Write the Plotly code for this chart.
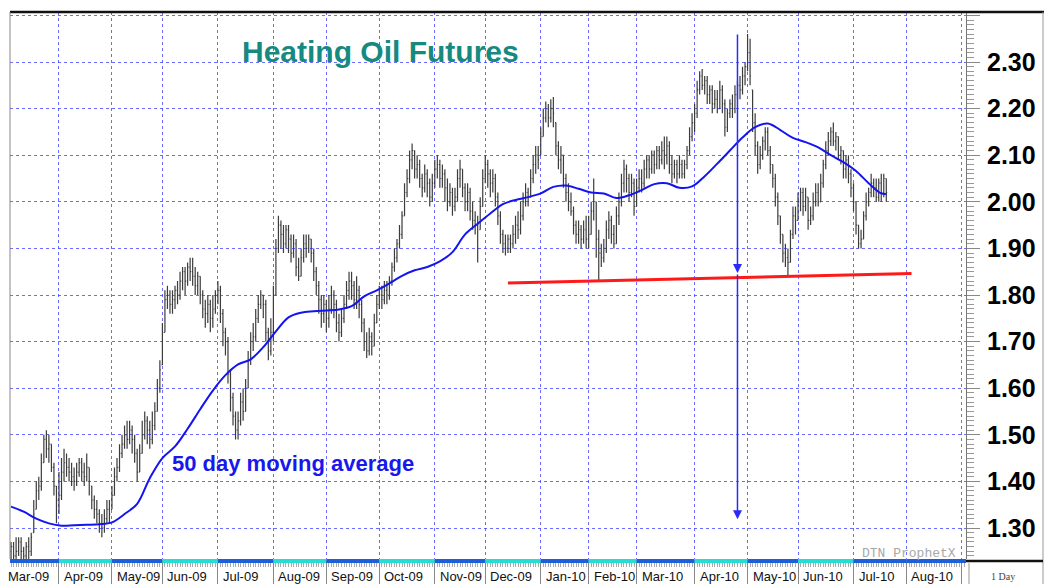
import pandas as pd
import plotly.graph_objects as go

# ---------------- data ----------------
title_text = "Heating Oil Futures"
ma_label = "50 day moving average"
watermark = "DTN ProphetX"
period_text = "1 Day"

first_session = "2009-03-02"
last_session = "2010-09-30"
first_bar_date = "2009-03-05"
holidays = ["2009-04-10", "2009-05-25", "2009-07-03", "2009-09-07", "2009-11-26",
            "2009-12-25", "2010-01-01", "2010-01-18", "2010-02-15", "2010-04-02",
            "2010-05-31", "2010-07-05"]

opens = [
    1.25, 1.26, 1.24, 1.25, 1.27, 1.25, 1.24, 1.26, 1.25, 1.29,
    1.34, 1.38, 1.39, 1.44, 1.49, 1.47, 1.48, 1.43, 1.39, 1.36,
    1.37, 1.42, 1.44, 1.43, 1.42, 1.41, 1.40, 1.42, 1.44, 1.42,
    1.41, 1.43, 1.39, 1.36, 1.34, 1.33, 1.31, 1.30, 1.32, 1.34,
    1.34, 1.37, 1.41, 1.43, 1.46, 1.48, 1.50, 1.49, 1.51, 1.49,
    1.46, 1.42, 1.46, 1.50, 1.53, 1.51, 1.49, 1.52, 1.55, 1.60,
    1.65, 1.72, 1.79, 1.80, 1.78, 1.79, 1.81, 1.80, 1.83, 1.85,
    1.83, 1.86, 1.85, 1.84, 1.82, 1.84, 1.80, 1.77, 1.76, 1.78,
    1.75, 1.77, 1.80, 1.81, 1.76, 1.72, 1.70, 1.63, 1.58, 1.54,
    1.51, 1.53, 1.57, 1.55, 1.60, 1.66, 1.70, 1.71, 1.75, 1.78,
    1.80, 1.78, 1.72, 1.68, 1.72, 1.80, 1.90, 1.95, 1.93, 1.91,
    1.94, 1.92, 1.89, 1.91, 1.86, 1.84, 1.88, 1.91, 1.90, 1.92,
    1.89, 1.85, 1.82, 1.79, 1.76, 1.78, 1.75, 1.77, 1.80, 1.78,
    1.74, 1.72, 1.75, 1.78, 1.81, 1.83, 1.82, 1.79, 1.81, 1.78,
    1.74, 1.70, 1.68, 1.71, 1.69, 1.74, 1.78, 1.80, 1.79, 1.81,
    1.80, 1.83, 1.86, 1.88, 1.91, 1.93, 1.97, 2.02, 2.05, 2.09,
    2.11, 2.07, 2.08, 2.05, 2.03, 2.06, 2.04, 2.01, 2.04, 2.07,
    2.08, 2.05, 2.06, 2.03, 2.00, 2.02, 1.99, 2.01, 2.05, 2.07,
    2.03, 2.00, 2.02, 1.98, 1.96, 1.95, 1.94, 1.99, 2.05, 2.08,
    2.06, 2.04, 2.05, 2.01, 1.97, 1.93, 1.91, 1.90, 1.92, 1.91,
    1.93, 1.95, 1.94, 1.97, 2.00, 2.02, 2.01, 2.05, 2.08, 2.10,
    2.10, 2.14, 2.18, 2.20, 2.18, 2.20, 2.17, 2.12, 2.09, 2.10,
    2.05, 2.02, 2.00, 1.98, 1.95, 1.93, 1.94, 1.92, 1.94, 1.92,
    1.93, 1.98, 2.00, 1.92, 1.89, 1.88, 1.90, 1.94, 1.96, 1.93,
    1.91, 1.97, 2.00, 2.04, 2.07, 2.05, 2.02, 2.04, 1.99, 2.03,
    2.05, 2.04, 2.07, 2.09, 2.07, 2.10, 2.08, 2.11, 2.09, 2.11,
    2.10, 2.12, 2.08, 2.06, 2.08, 2.06, 2.08, 2.06, 2.08, 2.11,
    2.14, 2.17, 2.19, 2.24, 2.27, 2.25, 2.26, 2.23, 2.24, 2.21,
    2.22, 2.20, 2.24, 2.21, 2.16, 2.19, 2.21, 2.20, 2.23, 2.25,
    2.24, 2.27, 2.29, 2.32, 2.24, 2.17, 2.12, 2.08, 2.10, 2.13,
    2.15, 2.11, 2.08, 2.05, 2.01, 1.97, 1.93, 1.89, 1.88, 1.87,
    1.93, 1.97, 1.96, 2.00, 2.02, 1.99, 2.01, 1.96, 1.97, 2.00,
    2.02, 2.00, 2.04, 2.08, 2.11, 2.13, 2.15, 2.13, 2.14, 2.10,
    2.11, 2.07, 2.09, 2.06, 2.03, 2.00, 1.95, 1.91, 1.92, 1.97,
    2.00, 2.02, 2.04, 2.03, 2.01, 2.04, 2.02, 2.05,
]

highs = [
    1.27, 1.27, 1.28, 1.28, 1.28, 1.26, 1.27, 1.28, 1.29, 1.36,
    1.40, 1.41, 1.46, 1.50, 1.51, 1.50, 1.48, 1.44, 1.39, 1.42,
    1.45, 1.47, 1.46, 1.45, 1.44, 1.43, 1.44, 1.45, 1.45, 1.44,
    1.46, 1.43, 1.39, 1.37, 1.36, 1.34, 1.33, 1.34, 1.36, 1.36,
    1.39, 1.43, 1.45, 1.48, 1.50, 1.52, 1.53, 1.53, 1.52, 1.50,
    1.47, 1.48, 1.53, 1.55, 1.54, 1.53, 1.55, 1.57, 1.62, 1.66,
    1.74, 1.81, 1.82, 1.81, 1.81, 1.82, 1.83, 1.85, 1.86, 1.86,
    1.87, 1.88, 1.88, 1.86, 1.85, 1.84, 1.81, 1.79, 1.80, 1.79,
    1.80, 1.81, 1.83, 1.82, 1.77, 1.73, 1.71, 1.64, 1.59, 1.55,
    1.55, 1.59, 1.60, 1.62, 1.68, 1.72, 1.74, 1.77, 1.80, 1.81,
    1.80, 1.79, 1.73, 1.75, 1.82, 1.92, 1.97, 1.96, 1.95, 1.95,
    1.95, 1.93, 1.93, 1.92, 1.88, 1.90, 1.93, 1.93, 1.93, 1.92,
    1.90, 1.86, 1.83, 1.80, 1.80, 1.79, 1.80, 1.82, 1.81, 1.79,
    1.76, 1.77, 1.80, 1.83, 1.85, 1.85, 1.83, 1.84, 1.82, 1.79,
    1.75, 1.72, 1.73, 1.72, 1.76, 1.80, 1.82, 1.82, 1.83, 1.83,
    1.84, 1.87, 1.90, 1.92, 1.95, 1.98, 2.04, 2.07, 2.11, 2.125,
    2.11, 2.10, 2.09, 2.06, 2.08, 2.07, 2.05, 2.06, 2.09, 2.10,
    2.09, 2.08, 2.07, 2.05, 2.04, 2.03, 2.03, 2.07, 2.09, 2.07,
    2.04, 2.04, 2.03, 2.00, 1.98, 1.97, 2.01, 2.07, 2.10, 2.09,
    2.07, 2.07, 2.06, 2.02, 1.98, 1.94, 1.93, 1.93, 1.93, 1.95,
    1.97, 1.98, 2.00, 2.02, 2.04, 2.03, 2.07, 2.10, 2.12, 2.12,
    2.16, 2.20, 2.215, 2.21, 2.22, 2.225, 2.17, 2.13, 2.12, 2.10,
    2.06, 2.04, 2.02, 1.99, 1.96, 1.96, 1.95, 1.96, 1.97, 1.97,
    2.00, 2.05, 2.00, 1.94, 1.91, 1.92, 1.96, 1.98, 1.97, 1.95,
    1.99, 2.02, 2.06, 2.09, 2.08, 2.06, 2.06, 2.05, 2.05, 2.07,
    2.07, 2.09, 2.10, 2.10, 2.11, 2.11, 2.12, 2.12, 2.13, 2.14,
    2.14, 2.13, 2.10, 2.09, 2.09, 2.10, 2.09, 2.09, 2.12, 2.16,
    2.19, 2.21, 2.26, 2.28, 2.285, 2.27, 2.27, 2.25, 2.25, 2.24,
    2.24, 2.26, 2.25, 2.22, 2.20, 2.22, 2.23, 2.25, 2.26, 2.27,
    2.29, 2.30, 2.36, 2.35, 2.24, 2.19, 2.13, 2.12, 2.14, 2.16,
    2.16, 2.12, 2.08, 2.06, 2.02, 1.97, 1.93, 1.91, 1.90, 1.94,
    1.99, 1.99, 2.02, 2.03, 2.03, 2.03, 2.01, 1.99, 2.02, 2.04,
    2.04, 2.06, 2.09, 2.13, 2.15, 2.16, 2.17, 2.15, 2.14, 2.12,
    2.11, 2.10, 2.10, 2.07, 2.04, 2.00, 1.95, 1.94, 1.98, 2.02,
    2.03, 2.06, 2.05, 2.05, 2.05, 2.06, 2.06, 2.05,
]

lows = [
    1.22, 1.22, 1.23, 1.24, 1.23, 1.22, 1.23, 1.23, 1.24, 1.29,
    1.34, 1.36, 1.38, 1.44, 1.45, 1.44, 1.42, 1.37, 1.31, 1.33,
    1.36, 1.40, 1.41, 1.40, 1.39, 1.38, 1.39, 1.41, 1.40, 1.39,
    1.40, 1.37, 1.34, 1.32, 1.31, 1.29, 1.28, 1.29, 1.31, 1.31,
    1.34, 1.37, 1.40, 1.42, 1.45, 1.47, 1.47, 1.48, 1.46, 1.44,
    1.40, 1.42, 1.46, 1.49, 1.48, 1.47, 1.48, 1.51, 1.55, 1.59,
    1.65, 1.72, 1.77, 1.76, 1.76, 1.77, 1.78, 1.79, 1.81, 1.80,
    1.82, 1.83, 1.82, 1.80, 1.80, 1.78, 1.75, 1.73, 1.74, 1.72,
    1.73, 1.76, 1.78, 1.74, 1.69, 1.67, 1.61, 1.55, 1.52, 1.49,
    1.49, 1.52, 1.53, 1.55, 1.60, 1.65, 1.68, 1.70, 1.74, 1.77,
    1.75, 1.70, 1.66, 1.67, 1.70, 1.80, 1.89, 1.90, 1.89, 1.90,
    1.89, 1.87, 1.88, 1.84, 1.83, 1.84, 1.87, 1.88, 1.89, 1.87,
    1.83, 1.80, 1.76, 1.73, 1.74, 1.72, 1.73, 1.76, 1.75, 1.72,
    1.70, 1.71, 1.74, 1.77, 1.79, 1.79, 1.77, 1.77, 1.75, 1.72,
    1.68, 1.665, 1.67, 1.67, 1.69, 1.74, 1.77, 1.77, 1.78, 1.78,
    1.79, 1.82, 1.85, 1.87, 1.90, 1.92, 1.97, 2.01, 2.04, 2.07,
    2.05, 2.05, 2.03, 2.01, 2.02, 2.01, 1.99, 2.00, 2.03, 2.05,
    2.03, 2.03, 2.00, 1.98, 1.99, 1.97, 1.98, 2.00, 2.03, 2.01,
    1.98, 1.98, 1.96, 1.94, 1.93, 1.87, 1.94, 1.99, 2.04, 2.03,
    2.01, 2.02, 1.99, 1.95, 1.91, 1.89, 1.885, 1.89, 1.89, 1.90,
    1.91, 1.92, 1.93, 1.96, 1.99, 1.99, 2.01, 2.04, 2.06, 2.07,
    2.10, 2.14, 2.17, 2.16, 2.17, 2.16, 2.10, 2.07, 2.06, 2.03,
    2.00, 1.98, 1.97, 1.93, 1.91, 1.91, 1.90, 1.91, 1.90, 1.90,
    1.93, 1.96, 1.88, 1.83, 1.86, 1.87, 1.89, 1.92, 1.91, 1.90,
    1.91, 1.95, 1.99, 2.02, 2.02, 2.00, 2.01, 1.97, 1.99, 2.02,
    2.02, 2.03, 2.05, 2.05, 2.06, 2.06, 2.07, 2.07, 2.08, 2.07,
    2.08, 2.06, 2.04, 2.05, 2.04, 2.05, 2.05, 2.05, 2.07, 2.10,
    2.13, 2.15, 2.18, 2.23, 2.24, 2.23, 2.21, 2.21, 2.19, 2.20,
    2.19, 2.20, 2.19, 2.14, 2.15, 2.18, 2.18, 2.19, 2.22, 2.22,
    2.23, 2.25, 2.28, 2.25, 2.15, 2.10, 2.06, 2.07, 2.09, 2.11,
    2.10, 2.06, 2.03, 1.99, 1.95, 1.91, 1.87, 1.86, 1.84, 1.87,
    1.92, 1.93, 1.96, 1.98, 1.97, 1.98, 1.94, 1.95, 1.96, 1.99,
    1.99, 2.00, 2.03, 2.07, 2.10, 2.12, 2.12, 2.11, 2.09, 2.08,
    2.05, 2.05, 2.04, 2.01, 1.98, 1.93, 1.90, 1.90, 1.92, 1.96,
    1.99, 2.01, 2.01, 2.00, 2.00, 2.00, 2.01, 2.00,
]

closes = [
    1.26, 1.24, 1.25, 1.27, 1.25, 1.24, 1.26, 1.25, 1.28, 1.33,
    1.38, 1.39, 1.44, 1.49, 1.47, 1.48, 1.43, 1.39, 1.36, 1.37,
    1.42, 1.44, 1.43, 1.42, 1.41, 1.40, 1.42, 1.44, 1.42, 1.41,
    1.43, 1.40, 1.36, 1.34, 1.33, 1.31, 1.30, 1.32, 1.34, 1.33,
    1.37, 1.41, 1.43, 1.46, 1.48, 1.50, 1.49, 1.51, 1.49, 1.46,
    1.42, 1.46, 1.50, 1.53, 1.51, 1.49, 1.52, 1.55, 1.60, 1.64,
    1.72, 1.79, 1.80, 1.78, 1.79, 1.81, 1.80, 1.83, 1.85, 1.83,
    1.86, 1.85, 1.84, 1.82, 1.84, 1.80, 1.77, 1.76, 1.78, 1.75,
    1.77, 1.80, 1.81, 1.76, 1.72, 1.70, 1.63, 1.58, 1.54, 1.51,
    1.53, 1.57, 1.55, 1.60, 1.66, 1.70, 1.71, 1.75, 1.78, 1.80,
    1.78, 1.72, 1.68, 1.72, 1.80, 1.90, 1.95, 1.93, 1.91, 1.94,
    1.92, 1.89, 1.91, 1.86, 1.84, 1.88, 1.91, 1.90, 1.92, 1.89,
    1.85, 1.82, 1.79, 1.76, 1.78, 1.75, 1.77, 1.80, 1.78, 1.74,
    1.72, 1.75, 1.78, 1.81, 1.83, 1.82, 1.79, 1.81, 1.78, 1.74,
    1.70, 1.68, 1.71, 1.69, 1.74, 1.78, 1.80, 1.79, 1.81, 1.80,
    1.83, 1.86, 1.88, 1.91, 1.93, 1.97, 2.02, 2.05, 2.09, 2.11,
    2.07, 2.08, 2.05, 2.03, 2.06, 2.04, 2.01, 2.04, 2.07, 2.08,
    2.05, 2.06, 2.03, 2.00, 2.02, 1.99, 2.01, 2.05, 2.07, 2.03,
    2.00, 2.02, 1.98, 1.96, 1.95, 1.90, 1.99, 2.05, 2.08, 2.06,
    2.04, 2.05, 2.01, 1.97, 1.93, 1.91, 1.90, 1.92, 1.91, 1.93,
    1.95, 1.94, 1.97, 2.00, 2.02, 2.01, 2.05, 2.08, 2.10, 2.09,
    2.14, 2.18, 2.20, 2.18, 2.20, 2.19, 2.12, 2.09, 2.10, 2.05,
    2.02, 2.00, 1.98, 1.95, 1.93, 1.94, 1.92, 1.94, 1.92, 1.93,
    1.98, 2.02, 1.92, 1.89, 1.88, 1.90, 1.94, 1.96, 1.93, 1.91,
    1.97, 2.00, 2.04, 2.07, 2.05, 2.02, 2.04, 1.99, 2.03, 2.05,
    2.04, 2.07, 2.09, 2.07, 2.10, 2.08, 2.11, 2.09, 2.11, 2.10,
    2.12, 2.08, 2.06, 2.08, 2.06, 2.08, 2.06, 2.08, 2.11, 2.14,
    2.17, 2.19, 2.24, 2.27, 2.25, 2.26, 2.23, 2.24, 2.21, 2.22,
    2.20, 2.24, 2.21, 2.16, 2.19, 2.21, 2.20, 2.23, 2.25, 2.24,
    2.27, 2.29, 2.32, 2.27, 2.17, 2.12, 2.08, 2.10, 2.13, 2.15,
    2.11, 2.08, 2.05, 2.01, 1.97, 1.93, 1.89, 1.88, 1.87, 1.93,
    1.97, 1.96, 2.00, 2.02, 1.99, 2.01, 1.96, 1.97, 2.00, 2.02,
    2.00, 2.04, 2.08, 2.11, 2.13, 2.15, 2.13, 2.14, 2.10, 2.11,
    2.07, 2.09, 2.06, 2.03, 2.00, 1.95, 1.91, 1.92, 1.97, 2.00,
    2.02, 2.04, 2.03, 2.01, 2.04, 2.02, 2.05, 2.02,
]

# 50-day moving average, sampled every 5th bar (plus the last bar)
ma50 = [
    1.346, 1.335, 1.320, 1.310, 1.305, 1.306, 1.307, 1.308, 1.312, 1.330,
    1.352, 1.407, 1.450, 1.475, 1.513, 1.555, 1.595, 1.628, 1.651, 1.662,
    1.688, 1.722, 1.752, 1.762, 1.765, 1.767, 1.769, 1.776, 1.797, 1.810,
    1.825, 1.841, 1.853, 1.860, 1.872, 1.892, 1.930, 1.953, 1.975, 1.995,
    2.004, 2.010, 2.018, 2.032, 2.035, 2.028, 2.020, 2.018, 2.008, 2.014,
    2.025, 2.038, 2.040, 2.030, 2.033, 2.055, 2.082, 2.110, 2.138, 2.160,
    2.168, 2.154, 2.137, 2.128, 2.117, 2.100, 2.085, 2.066, 2.040, 2.018,
    2.017,
]

support_dates = ["2009-12-14", "2010-08-04"]
support_prices = [1.826, 1.846]

move_date = "2010-04-27"
move_top = 2.362
move_neck = 1.847
move_target = 1.319

ytick_vals = [1.3, 1.4, 1.5, 1.6, 1.7, 1.8, 1.9, 2.0, 2.1, 2.2, 2.3, 2.4]
ytick_text = ["1.30", "1.40", "1.50", "1.60", "1.70", "1.80", "1.90", "2.00",
              "2.10", "2.20", "2.30", ""]

# ---------------- build ----------------
sessions = pd.bdate_range(first_session, last_session, freq="C", holidays=holidays)
pos = {d: i for i, d in enumerate(sessions)}
start = pos[pd.Timestamp(first_bar_date)]
n = len(closes)
bar_x = list(range(start, start + n))

ma_pos = list(range(0, n, 5)) + [n - 1]
ma_x = [bar_x[i] for i in ma_pos]

month_starts = [i for i, d in enumerate(sessions)
                if i == 0 or d.month != sessions[i - 1].month]
month_names = [sessions[i].strftime("%b-%y") for i in month_starts]

x_range = [2.58, 381.6]
y_range = [1.2335, 2.4073]

# the page body adds an 8px offset; layout below is set in screen pixels
OFF = 8
W, H = 1052 - OFF, 584 - OFF
PL, PR, PT, PB = 10, 966, 12, 559          # plot area edges on screen
ML, MR, MT, MB = PL - OFF, W - (PR - OFF), PT - OFF, H - (PB - OFF)
PW, PH = PR - PL, PB - PT


def px_x(p):
    return (p - PL) / PW


def px_y(p):
    return (PB - p) / PH


def xfrac(v):
    return (v - x_range[0]) / (x_range[1] - x_range[0])


grid_col = "rgba(70,70,255,0.8)"
font_main = "Liberation Sans, Arial, sans-serif"

fig = go.Figure()
fig.add_trace(go.Ohlc(
    x=bar_x, open=opens, high=highs, low=lows, close=closes,
    increasing=dict(line=dict(color="#3c3c3c", width=1.2)),
    decreasing=dict(line=dict(color="#3c3c3c", width=1.2)),
    tickwidth=0.35, hoverinfo="skip", showlegend=False,
))
fig.add_trace(go.Scatter(
    x=ma_x, y=ma50, mode="lines", line=dict(color="#1414f0", width=2, shape="spline"),
    hoverinfo="skip", showlegend=False,
))
fig.add_trace(go.Scatter(
    x=[pos[pd.Timestamp(d)] for d in support_dates], y=support_prices,
    mode="lines", line=dict(color="#ff1a1a", width=3),
    hoverinfo="skip", showlegend=False,
))

move_x = pos[pd.Timestamp(move_date)]
annotations = [
    dict(x=move_x, y=move_neck, ax=move_x, ay=move_top, xref="x", yref="y",
         axref="x", ayref="y", text="", showarrow=True, arrowhead=2,
         arrowsize=1.2, arrowwidth=1.5, arrowcolor="#2a2aff"),
    dict(x=move_x, y=move_target, ax=move_x, ay=move_neck, xref="x", yref="y",
         axref="x", ayref="y", text="", showarrow=True, arrowhead=2,
         arrowsize=1.2, arrowwidth=1.5, arrowcolor="#2a2aff"),
    dict(x=px_x(380.5), y=px_y(51), xref="paper", yref="paper", text=title_text,
         showarrow=False, xanchor="center", yanchor="middle",
         font=dict(family=font_main, size=30, color="#168a80", weight="bold")),
    dict(x=px_x(293), y=px_y(463), xref="paper", yref="paper", text=ma_label,
         showarrow=False, xanchor="center", yanchor="middle",
         font=dict(family=font_main, size=22, color="#1818ee", weight="bold")),
    dict(x=px_x(958), y=px_y(553), xref="paper", yref="paper", text=watermark,
         showarrow=False, xanchor="right", yanchor="middle",
         font=dict(family="Liberation Mono, Courier New, monospace", size=13,
                   color="#a8a8a8")),
    dict(x=px_x(1003), y=px_y(576), xref="paper", yref="paper", text=period_text,
         showarrow=False, xanchor="center", yanchor="middle",
         font=dict(family="Liberation Serif, serif", size=10, color="#444")),
]
for ms, name in zip(month_starts, month_names):
    if ms > x_range[1] - 5:
        continue
    annotations.append(dict(
        x=xfrac(ms), y=px_y(576), xref="paper", yref="paper", text=name,
        showarrow=False, xanchor="left", yanchor="middle", xshift=3,
        font=dict(family=font_main, size=13, color="#111")))

shapes = []
# alternating month band along the bottom
last_bar = bar_x[-1]
for k, ms in enumerate(month_starts):
    x0 = max(ms, x_range[0])
    x1 = month_starts[k + 1] if k + 1 < len(month_starts) else x_range[1]
    x1 = min(x1, x_range[1])
    if x1 <= x0:
        continue
    col = "#1d5fd6" if (k % 2 == 0 or ms > last_bar) else "#27dcd2"
    shapes.append(dict(type="rect", xref="x", yref="paper", x0=x0, x1=x1,
                       y0=px_y(563), y1=px_y(559), fillcolor=col,
                       line=dict(width=0), layer="above"))
# frame lines
shapes += [
    dict(type="line", xref="paper", yref="paper", x0=0, x1=px_x(1046),
         y0=1, y1=1, line=dict(color="#111", width=2.5)),
    dict(type="line", xref="paper", yref="paper", x0=0, x1=0,
         y0=0, y1=1, line=dict(color="#888", width=1)),
    dict(type="line", xref="paper", yref="paper", x0=px_x(1043), x1=px_x(1043),
         y0=px_y(584), y1=1, line=dict(color="#999", width=1)),
    dict(type="line", xref="paper", yref="paper", x0=1, x1=px_x(1043),
         y0=px_y(561), y1=px_y(561), line=dict(color="#111", width=2.5)),
    dict(type="line", xref="paper", yref="paper", x0=px_x(969), x1=px_x(969),
         y0=px_y(584), y1=px_y(563), line=dict(color="#999", width=1)),
]

fig.update_layout(
    width=W, height=H,
    margin=dict(l=ML, r=MR, t=MT, b=MB, pad=0, autoexpand=False),
    paper_bgcolor="white", plot_bgcolor="white",
    showlegend=False,
    annotations=annotations, shapes=shapes,
    xaxis=dict(
        range=x_range, rangeslider=dict(visible=False),
        tickmode="array", tickvals=month_starts, showticklabels=False,
        showgrid=True, gridcolor=grid_col, griddash="dot", gridwidth=1,
        ticks="outside", ticklen=25, tickcolor="#888", tickwidth=1,
        minor=dict(tickmode="linear", tick0=0, dtick=1, ticks="outside",
                   ticklen=7, tickcolor="#aaa", tickwidth=1, showgrid=False),
        showline=False, zeroline=False, fixedrange=True, automargin=False,
    ),
    yaxis=dict(
        side="right", range=y_range,
        tickmode="array", tickvals=ytick_vals, ticktext=ytick_text,
        showgrid=True, gridcolor=grid_col, griddash="dot", gridwidth=1,
        ticks="outside", ticklen=13, tickcolor="#888", tickwidth=1,
        minor=dict(tickmode="linear", tick0=0, dtick=0.01, ticks="outside",
                   ticklen=7, tickcolor="#999", tickwidth=1, showgrid=False),
        showline=True, linecolor="#777", linewidth=1,
        tickfont=dict(family=font_main, size=25, color="#000", weight="bold"),
        ticklabelstandoff=2, zeroline=False, fixedrange=True, automargin=False,
    ),
)

fig.write_html("out.html")
